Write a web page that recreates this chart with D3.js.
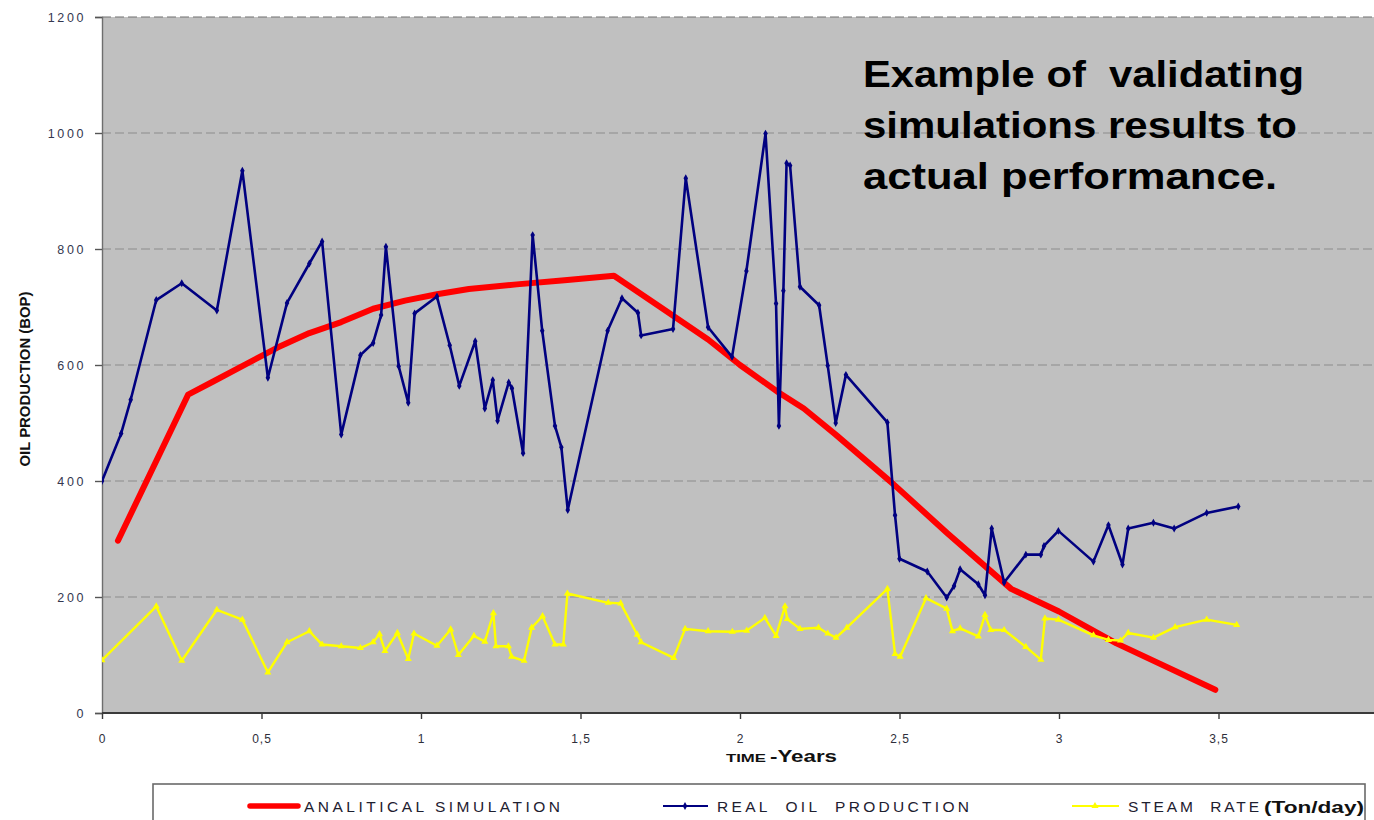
<!DOCTYPE html>
<html>
<head>
<meta charset="utf-8">
<script src="https://cdn.jsdelivr.net/npm/d3@7"></script>
<style>
  html, body { margin: 0; padding: 0; background: #ffffff; }
  svg { display: block; font-family: "Liberation Sans", Arial, sans-serif; }
</style>
</head>
<body>
<svg id="chart" width="1374" height="820"></svg>
<script>
// Analytical simulation curve (years, BOP)
const simYears = [0.05, 0.27, 0.35, 0.45, 0.55, 0.65, 0.75, 0.85, 0.95, 1.05, 1.15, 1.30, 1.45, 1.605,
                  1.75, 1.90, 2.00, 2.12, 2.20, 2.30, 2.48, 2.65, 2.85, 3.00, 3.18, 3.49];
const simOil   = [297, 549, 572, 601, 630, 655, 674, 697, 711, 722, 731, 739, 746, 754,
                  700, 644, 600, 553, 525, 480, 395, 310, 214, 175, 120, 40];

// Measured oil production (years, BOP)
const realYears = [0.00, 0.06, 0.09, 0.17, 0.25, 0.36, 0.44, 0.52, 0.58, 0.65, 0.69, 0.75, 0.81, 0.85,
                   0.875, 0.89, 0.93, 0.96, 0.98, 1.05, 1.09, 1.12, 1.17, 1.20, 1.225, 1.24, 1.275, 1.285,
                   1.32, 1.35, 1.38, 1.42, 1.44, 1.46, 1.585, 1.63, 1.68, 1.69, 1.79, 1.83, 1.90, 1.975,
                   2.02, 2.08, 2.113, 2.122, 2.136, 2.146, 2.157, 2.188, 2.248, 2.275, 2.30, 2.332, 2.462,
                   2.486, 2.50, 2.587, 2.648, 2.671, 2.69, 2.747, 2.768, 2.789, 2.828, 2.896, 2.943, 2.953,
                   2.998, 3.108, 3.155, 3.199, 3.217, 3.296, 3.361, 3.463, 3.562];
const realOil   = [400, 482, 540, 712, 741, 694, 935, 578, 707, 775, 813, 480, 617, 638,
                   686, 804, 598, 535, 689, 718, 634, 564, 641, 525, 574, 504, 570, 560,
                   448, 824, 659, 495, 458, 350, 659, 715, 690, 651, 662, 922, 665, 614,
                   762, 999, 706, 495, 728, 948, 944, 735, 703, 599, 500, 583, 501,
                   341, 266, 244, 199, 219, 248, 222, 203, 318, 225, 273, 273, 288,
                   314, 261, 324, 256, 318, 328, 318, 345, 356];

// Steam injection rate (years, Ton/day)
const steamYears = [0.00, 0.17, 0.25, 0.36, 0.44, 0.52, 0.58, 0.65, 0.69, 0.75, 0.81, 0.85, 0.87, 0.887,
                    0.926, 0.96, 0.978, 1.05, 1.093, 1.117, 1.166, 1.20, 1.227, 1.235, 1.274, 1.284, 1.323,
                    1.347, 1.381, 1.42, 1.446, 1.459, 1.587, 1.626, 1.678, 1.69, 1.792, 1.828, 1.90, 1.976,
                    2.021, 2.078, 2.113, 2.141, 2.148, 2.188, 2.246, 2.275, 2.301, 2.335, 2.462, 2.486, 2.502,
                    2.583, 2.648, 2.666, 2.69, 2.747, 2.768, 2.786, 2.828, 2.896, 2.943, 2.956, 2.998, 3.108,
                    3.155, 3.193, 3.217, 3.296, 3.364, 3.463, 3.557];
const steamRate  = [91, 184, 90, 178, 161, 70, 122, 141, 118, 115, 112, 122, 136, 107,
                    138, 93, 137, 116, 144, 100, 133, 123, 172, 115, 115, 97, 90,
                    147, 167, 118, 118, 206, 190, 189, 135, 122, 95, 145, 141, 140,
                    142, 164, 133, 184, 162, 145, 147, 137, 130, 147, 214, 102, 97,
                    198, 180, 141, 146, 132, 169, 143, 143, 114, 92, 163, 161, 134,
                    126, 125, 138, 130, 148, 161, 152];

const yTicks = [0, 200, 400, 600, 800, 1000, 1200];
const xTicks = [0, 0.5, 1, 1.5, 2, 2.5, 3, 3.5];
const xTickLabels = ["0", "0,5", "1", "1,5", "2", "2,5", "3", "3,5"];

const svg = d3.select("#chart");
const plot = { left: 102, top: 17, right: 1374, bottom: 713 };

const x = d3.scaleLinear().domain([0, 4]).range([plot.left, 1378]);
const y = d3.scaleLinear().domain([0, 1200]).range([plot.bottom, plot.top]);

// plot background
svg.append("rect")
  .attr("x", plot.left).attr("y", plot.top)
  .attr("width", plot.right - plot.left).attr("height", plot.bottom - plot.top)
  .attr("fill", "#c0c0c0");

// dashed horizontal gridlines
svg.append("g").selectAll("line")
  .data(yTicks.filter(d => d > 0))
  .join("line")
  .attr("x1", plot.left).attr("x2", plot.right)
  .attr("y1", d => y(d)).attr("y2", d => y(d))
  .attr("stroke", d => d === 1200 ? "#707070" : "#8c8c8c")
  .attr("stroke-width", 1.2)
  .attr("stroke-dasharray", "9,4");

// y axis
const yAxis = d3.axisLeft(y).tickValues(yTicks).tickSize(7).tickFormat(d => d);
const gy = svg.append("g").attr("transform", `translate(${plot.left},0)`).call(yAxis);
gy.select(".domain").attr("stroke", "#6e6e6e").attr("stroke-width", 1.4);
gy.selectAll(".tick line").attr("stroke", "#555").attr("stroke-width", 1.4);
gy.selectAll(".tick text")
  .attr("x", -16)
  .attr("fill", "#34374f")
  .style("font-size", "12.5px")
  .style("letter-spacing", "2.6px");

// x axis
const xAxis = d3.axisBottom(x).tickValues(xTicks).tickSize(6)
  .tickFormat((d, i) => xTickLabels[i]);
const gx = svg.append("g").attr("transform", `translate(0,${plot.bottom})`).call(xAxis);
gx.select(".domain").attr("stroke", "#3a3a3a").attr("stroke-width", 2.2)
  .attr("d", `M${plot.left},0H${plot.right}`);
gx.selectAll(".tick line").attr("stroke", "#3a3a3a").attr("stroke-width", 1.4);
gx.selectAll(".tick text")
  .attr("y", 21)
  .attr("fill", "#2e2e3a")
  .style("font-size", "12px")
  .style("letter-spacing", "1px");

// axis titles
svg.append("text")
  .attr("transform", "translate(30,379) rotate(-90)")
  .attr("text-anchor", "middle")
  .attr("font-weight", "bold")
  .attr("font-size", 15.5)
  .attr("textLength", 175)
  .attr("lengthAdjust", "spacingAndGlyphs")
  .attr("fill", "#111")
  .text("OIL PRODUCTION (BOP)");

svg.append("text")
  .attr("x", 726).attr("y", 762)
  .attr("font-weight", "bold").attr("font-size", 11.5)
  .attr("textLength", 40).attr("lengthAdjust", "spacingAndGlyphs")
  .attr("fill", "#111").text("TIME");
svg.append("text")
  .attr("x", 770).attr("y", 762)
  .attr("font-weight", "bold").attr("font-size", 16)
  .attr("textLength", 67).attr("lengthAdjust", "spacingAndGlyphs")
  .attr("fill", "#111").text("-Years");

// series
svg.append("clipPath").attr("id", "plotClip")
  .append("rect").attr("x", plot.left).attr("y", plot.top - 5)
  .attr("width", plot.right - plot.left).attr("height", plot.bottom - plot.top + 5);

const lineGen = d3.line().x(d => x(d[0])).y(d => y(d[1]));
const series = svg.append("g").attr("clip-path", "url(#plotClip)");

const simData = simYears.map((t, i) => [t, simOil[i]]);
const realData = realYears.map((t, i) => [t, realOil[i]]);
const steamData = steamYears.map((t, i) => [t, steamRate[i]]);

series.append("path").datum(simData)
  .attr("d", lineGen)
  .attr("fill", "none").attr("stroke", "#ff0000")
  .attr("stroke-width", 6).attr("stroke-linejoin", "round").attr("stroke-linecap", "round");

series.append("path").datum(realData)
  .attr("d", lineGen)
  .attr("fill", "none").attr("stroke", "#000080")
  .attr("stroke-width", 2.6).attr("stroke-linejoin", "round");
series.append("g").selectAll("path")
  .data(realData).join("path")
  .attr("transform", d => `translate(${x(d[0])},${y(d[1])})`)
  .attr("d", d3.symbol(d3.symbolDiamond, 18))
  .attr("fill", "#000080");

series.append("path").datum(steamData)
  .attr("d", lineGen)
  .attr("fill", "none").attr("stroke", "#ffff00")
  .attr("stroke-width", 2.4).attr("stroke-linejoin", "round");
series.append("g").selectAll("path")
  .data(steamData).join("path")
  .attr("transform", d => `translate(${x(d[0])},${y(d[1])})`)
  .attr("d", d3.symbol(d3.symbolTriangle, 22))
  .attr("fill", "#ffff00");

// annotation
const note = [
  { text: "Example of  validating", w: 441 },
  { text: "simulations results to", w: 434 },
  { text: "actual performance.", w: 414 }
];
svg.append("g").selectAll("text")
  .data(note).join("text")
  .attr("x", 863)
  .attr("y", (d, i) => 87 + i * 51)
  .attr("font-weight", "bold")
  .attr("font-size", 37)
  .attr("textLength", d => d.w)
  .attr("lengthAdjust", "spacingAndGlyphs")
  .attr("fill", "#000")
  .attr("xml:space", "preserve")
  .text(d => d.text);

// legend
const legend = svg.append("g");
legend.append("rect")
  .attr("x", 153).attr("y", 784).attr("width", 1212).attr("height", 60)
  .attr("fill", "#fff").attr("stroke", "#6a6a6a").attr("stroke-width", 1.6);

const legendY = 806;
legend.append("line")
  .attr("x1", 250).attr("x2", 298).attr("y1", legendY).attr("y2", legendY)
  .attr("stroke", "#ff0000").attr("stroke-width", 5.5).attr("stroke-linecap", "round");
legend.append("line")
  .attr("x1", 663).attr("x2", 708).attr("y1", legendY).attr("y2", legendY)
  .attr("stroke", "#000080").attr("stroke-width", 2.2);
legend.append("path")
  .attr("transform", `translate(685,${legendY})`)
  .attr("d", d3.symbol(d3.symbolDiamond, 18)).attr("fill", "#000080");
legend.append("line")
  .attr("x1", 1072).attr("x2", 1119).attr("y1", legendY).attr("y2", legendY)
  .attr("stroke", "#ffff00").attr("stroke-width", 2.2);
legend.append("path")
  .attr("transform", `translate(1095,${legendY})`)
  .attr("d", d3.symbol(d3.symbolTriangle, 22)).attr("fill", "#ffff00");

const legendItems = [
  { label: "ANALITICAL SIMULATION", x0: 304, w: 256 },
  { label: "REAL  OIL  PRODUCTION", x0: 717, w: 252 },
  { label: "STEAM  RATE", x0: 1128, w: 131 }
];
legend.selectAll("text.item")
  .data(legendItems).join("text")
  .attr("class", "item")
  .attr("x", d => d.x0).attr("y", 812)
  .attr("font-size", 15.5)
  .attr("textLength", d => d.w)
  .attr("lengthAdjust", "spacing")
  .attr("fill", "#1e2030")
  .attr("xml:space", "preserve")
  .text(d => d.label);
legend.append("text")
  .attr("x", 1264).attr("y", 813)
  .attr("font-size", 16).attr("font-weight", "bold")
  .attr("textLength", 100).attr("lengthAdjust", "spacingAndGlyphs")
  .attr("fill", "#111")
  .text("(Ton/day)");
</script>
</body>
</html>
